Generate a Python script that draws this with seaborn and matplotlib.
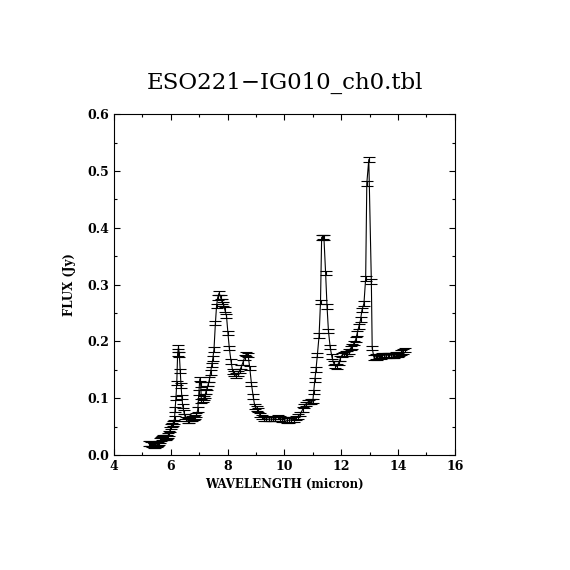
import numpy as np
import pandas as pd
import seaborn as sns
import matplotlib
matplotlib.use("Agg")
import matplotlib.pyplot as plt
from matplotlib.ticker import MultipleLocator

##########################
# Spectrum (read by eye) #
##########################

wavelength = [
    5.22, 5.26, 5.30, 5.34, 5.38, 5.42, 5.46, 5.50, 5.54, 5.58, 5.62, 5.66,
    5.70, 5.74, 5.78, 5.82, 5.86, 5.90, 5.94, 5.98, 6.01, 6.04, 6.07, 6.10,
    6.13, 6.15, 6.18, 6.21, 6.24, 6.27, 6.30, 6.33,
    6.36, 6.39, 6.42, 6.46, 6.50, 6.55, 6.60, 6.65, 6.70, 6.75, 6.80, 6.85,
    6.90, 6.95, 6.99, 7.02, 7.05, 7.08, 7.12, 7.16, 7.20, 7.24, 7.28, 7.32,
    7.36, 7.40, 7.44, 7.48, 7.52, 7.57, 7.61, 7.65, 7.70, 7.75, 7.80, 7.85,
    7.90, 7.96, 8.01, 8.06, 8.12, 8.18, 8.24, 8.30, 8.36, 8.42, 8.48, 8.54,
    8.60, 8.66, 8.72, 8.78, 8.84, 8.90, 8.96, 9.02, 9.08, 9.14, 9.20, 9.28,
    9.36, 9.44, 9.52, 9.60, 9.68, 9.76, 9.84, 9.92, 10.00, 10.08, 10.16,
    10.24, 10.32, 10.40, 10.48, 10.56, 10.64, 10.70, 10.76, 10.82, 10.88,
    10.94, 11.00, 11.03, 11.07, 11.11, 11.16, 11.22, 11.27, 11.31, 11.35,
    11.39, 11.45, 11.50, 11.55, 11.61, 11.67, 11.73, 11.79, 11.85, 11.91,
    11.97, 12.03, 12.09, 12.15, 12.21, 12.27, 12.33, 12.39, 12.45, 12.51,
    12.56, 12.62, 12.68, 12.73, 12.80, 12.86, 12.90, 12.97, 13.06, 13.09,
    13.15, 13.21, 13.27, 13.33, 13.39, 13.45, 13.51, 13.57, 13.63, 13.69,
    13.75, 13.81, 13.87, 13.93, 13.99, 14.05, 14.11, 14.17, 14.23,
]

flux = [
    0.020, 0.020, 0.019, 0.018, 0.018, 0.017, 0.017, 0.018, 0.019, 0.021, 0.025, 0.028,
    0.030, 0.031, 0.031, 0.031, 0.032, 0.034, 0.038, 0.045, 0.050, 0.053, 0.055, 0.058,
    0.064, 0.080, 0.100, 0.127, 0.178, 0.190, 0.177, 0.148,
    0.122, 0.102, 0.086, 0.076, 0.068, 0.063, 0.061, 0.061, 0.063, 0.064, 0.065, 0.067,
    0.070, 0.080, 0.110, 0.134, 0.124, 0.095, 0.097, 0.100, 0.104, 0.112, 0.118, 0.125,
    0.133, 0.145, 0.158, 0.170, 0.186, 0.232, 0.262, 0.277, 0.285, 0.278, 0.270, 0.266,
    0.256, 0.245, 0.215, 0.188, 0.165, 0.147, 0.143, 0.140, 0.143, 0.148, 0.155, 0.163,
    0.172, 0.178, 0.176, 0.153, 0.125, 0.103, 0.085, 0.082, 0.079, 0.070, 0.067, 0.064,
    0.063, 0.063, 0.063, 0.063, 0.064, 0.067, 0.064, 0.062, 0.062, 0.061, 0.061,
    0.062, 0.062, 0.065, 0.068, 0.072, 0.080, 0.086, 0.090, 0.093, 0.093,
    0.094, 0.095, 0.111, 0.132, 0.150, 0.176, 0.210, 0.269, 0.383, 0.384,
    0.383, 0.320, 0.261, 0.218, 0.190, 0.173, 0.162, 0.157, 0.156, 0.162,
    0.170, 0.176, 0.178, 0.179, 0.179, 0.182, 0.188, 0.191, 0.197, 0.203,
    0.214, 0.226, 0.238, 0.255, 0.267, 0.311, 0.478, 0.520, 0.305, 0.188,
    0.172, 0.173, 0.172, 0.174, 0.173, 0.175, 0.176, 0.174, 0.176, 0.175,
    0.176, 0.174, 0.175, 0.177, 0.176, 0.178, 0.180, 0.182, 0.185,
]

flux_err = [0.004] * len(flux)

df = pd.DataFrame({'wavelength': wavelength, 'flux': flux, 'err': flux_err})

#########
# Plot  #
#########

sns.set_style("ticks")
plt.rcParams['font.family'] = ['DejaVu Serif']
plt.rcParams['text.color'] = 'black'
plt.rcParams['axes.labelcolor'] = 'black'
plt.rcParams['xtick.color'] = 'black'
plt.rcParams['ytick.color'] = 'black'

fig = plt.figure(figsize=(5.7, 5.7), dpi=100)
ax = fig.add_axes([0.2, 0.2018, 0.598, 0.598])

sns.lineplot(data=df, x='wavelength', y='flux', ax=ax, color='black',
             linewidth=0.8, sort=False, estimator=None)
ax.errorbar(df['wavelength'], df['flux'], yerr=df['err'], fmt='none',
            ecolor='black', elinewidth=0.8, capsize=4, capthick=0.8)

ax.set_xlim(4, 16)
ax.set_ylim(0, 0.6)
ax.xaxis.set_major_locator(MultipleLocator(2))
ax.xaxis.set_minor_locator(MultipleLocator(1))
ax.yaxis.set_major_locator(MultipleLocator(0.1))
ax.yaxis.set_minor_locator(MultipleLocator(0.05))
ax.yaxis.set_major_formatter(plt.FormatStrFormatter('%.1f'))
ax.tick_params(which='both', top=True, right=True, direction='in',
               width=0.8, labelsize=9, colors='black')
ax.tick_params(which='major', length=4.5)
ax.tick_params(which='minor', length=2.3)
for lbl in ax.get_xticklabels() + ax.get_yticklabels():
    lbl.set_fontweight('bold')
for s in ax.spines.values():
    s.set_linewidth(0.8)
    s.set_color('black')

ax.set_xlabel('WAVELENGTH (micron)', fontsize=8.5, fontweight='bold', labelpad=4)
ax.set_ylabel('FLUX (Jy)', fontsize=8.5, fontweight='bold', labelpad=8)
fig.text(0.5, 0.855, 'ESO221\u2212IG010_ch0.tbl', ha='center', va='center',
         fontsize=16.5, color='black')

fig.savefig('out.png', dpi=100, facecolor='white')
